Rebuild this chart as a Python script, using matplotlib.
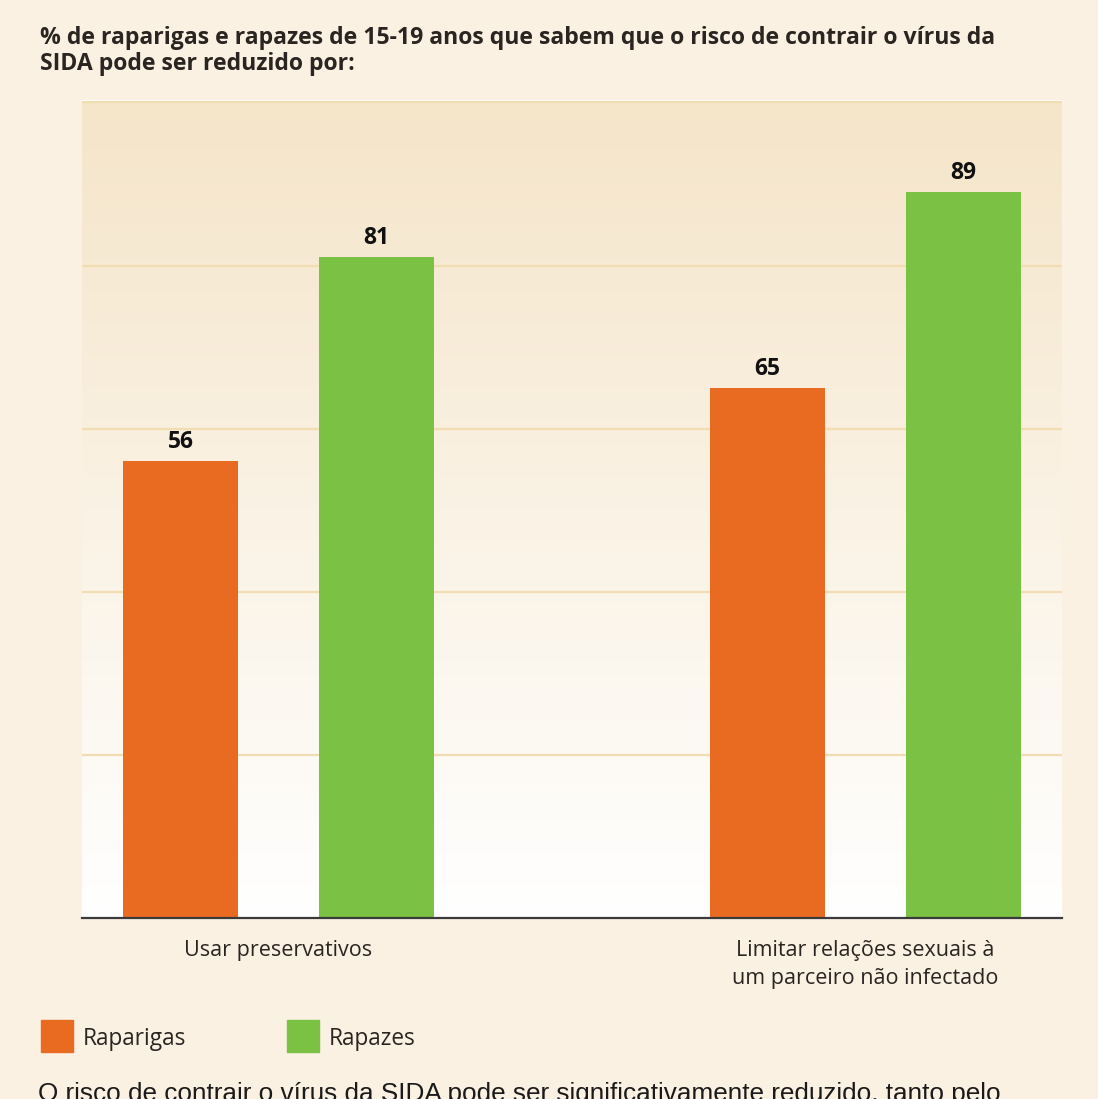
import numpy as np
import matplotlib
matplotlib.use("Agg")
from matplotlib import pyplot as plt
from matplotlib.patches import Rectangle

categories = ["Usar preservativos", "Limitar relações sexuais à\num parceiro não infectado"]
raparigas = [56, 65]
rapazes = [81, 89]
series_names = ["Raparigas", "Rapazes"]

title = "% de raparigas e rapazes de 15-19 anos que sabem que o risco de contrair o vírus da\nSIDA pode ser reduzido por:"
footer = "O risco de contrair o vírus da SIDA pode ser significativamente reduzido, tanto pelo"

orange = "#E96B21"
green = "#7BC143"
bg = "#FAF1E3"
txt = "#2B2522"

plt.rcParams['font.family'] = ['Open Sans', 'DejaVu Sans']

fig = plt.figure(figsize=(10.98, 10.99), dpi=100, facecolor=bg)
W, H = 1098, 1099
ax = fig.add_axes([82 / W, 1 - 918 / H, 980 / W, 818 / H])

# gradient background
grad = np.linspace(0, 1, 256).reshape(-1, 1)
c_top = np.array(matplotlib.colors.to_rgb("#F5E5C9"))
c_bot = np.array([1.0, 1.0, 1.0])
img = c_bot + (c_top - c_bot) * grad[..., None]
img = img.reshape(256, 1, 3)
xl = (-0.3348, 1.3348)
ax.imshow(img, extent=[xl[0], xl[1], 0, 100], origin="lower", aspect="auto", zorder=0)

x = np.arange(len(categories))
w = 0.196
off = 0.167
b1 = ax.bar(x - off, raparigas, w, color=orange, zorder=3, label=series_names[0])
b2 = ax.bar(x + off, rapazes, w, color=green, zorder=3, label=series_names[1])

for bars in (b1, b2):
    for r in bars:
        ax.text(r.get_x() + r.get_width() / 2, r.get_height() + 0.9, str(int(r.get_height())),
                ha="center", va="bottom", fontsize=16.5, fontweight="bold", color="#111111", zorder=4)

for g in [20, 40, 60, 80, 100]:
    ax.axhline(g, color="#F2DCB2", lw=1.6, zorder=1)

ax.set_xlim(*xl)
ax.set_ylim(0, 100.3)
for s in ["top", "left", "right"]:
    ax.spines[s].set_visible(False)
ax.spines["bottom"].set_color("#3A3A3A")
ax.spines["bottom"].set_linewidth(1.6)
ax.spines["bottom"].set_zorder(5)
ax.set_yticks([])
ax.set_xticks(x)
ax.set_xticklabels(categories, fontsize=15.5, color=txt, linespacing=1.45)
ax.tick_params(axis="x", length=0, pad=16)
ax.set_facecolor("white")

fig.text(40 / W, 1 - 26 / H, title, ha="left", va="top", fontsize=16.6, fontweight="bold",
         color=txt, linespacing=1.1)

# legend
for i, (name, col) in enumerate(zip(series_names, [orange, green])):
    lx = [41, 287][i]
    fig.patches.append(Rectangle((lx / W, 1 - 1052 / H), 32 / W, 32 / H, transform=fig.transFigure,
                                 color=col, figure=fig))
    fig.text((lx + 42) / W, 1 - 1039 / H, name, ha="left", va="center", fontsize=16.3, color=txt)

# footer sentence, cut by the bottom edge as in the source
fig.text(38 / W, 1 - 1082 / H, footer, ha="left", va="top", fontsize=18.8, color="#1A1A1A",
         family=["Liberation Sans", "DejaVu Sans"])

fig.savefig("out.png", dpi=100, facecolor=bg)
